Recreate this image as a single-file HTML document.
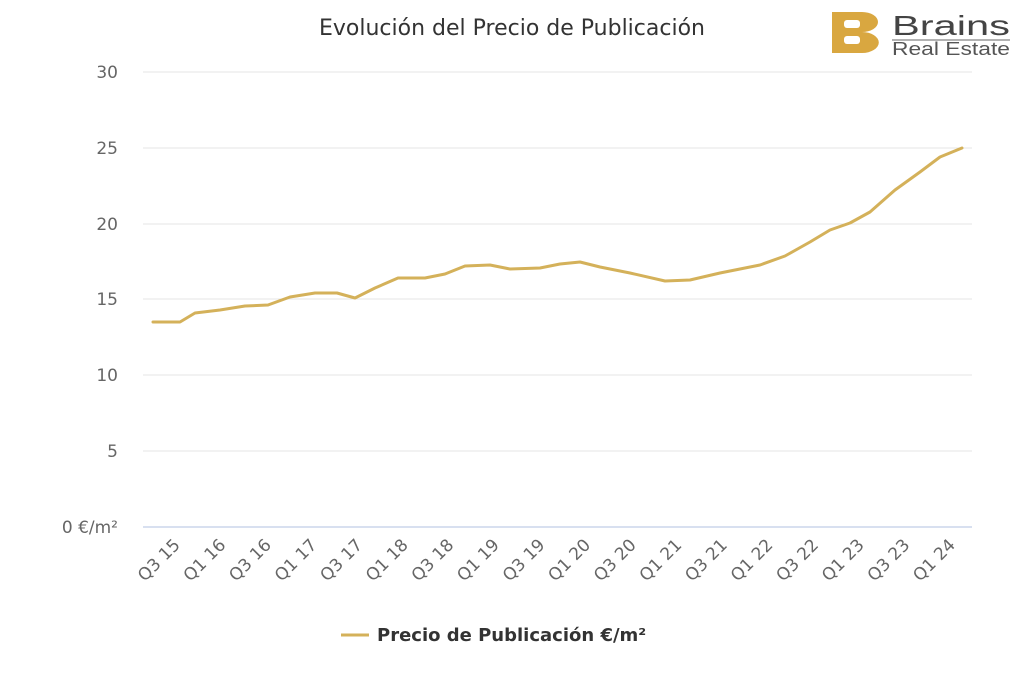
<!DOCTYPE html>
<html><head><meta charset="utf-8"><style>
body{margin:0;background:#fff;}
svg{display:block;font-family:"DejaVu Sans","Liberation Sans",sans-serif;}
</style></head><body>
<svg width="1024" height="683" viewBox="0 0 1024 683" xmlns="http://www.w3.org/2000/svg">
<rect width="1024" height="683" fill="#fff"/>
<text x="512" y="35" text-anchor="middle" font-size="22" fill="#333">Evolución del Precio de Publicación</text>
<!-- logo -->
<path d="M832,12 H862 A16,10 0 0 1 862,32 A16,10 0 0 1 862,53 H832 Z" fill="#d9a740"/>
<rect x="844" y="20" width="16" height="8" rx="3" fill="#fff"/>
<rect x="844" y="36" width="16" height="8" rx="3" fill="#fff"/>
<text x="892" y="35" font-size="28" fill="#444" font-family="Liberation Sans,sans-serif" textLength="118" lengthAdjust="spacingAndGlyphs">Brains</text>
<line x1="892" y1="40" x2="1010" y2="40" stroke="#666" stroke-width="1"/>
<text x="892" y="55" font-size="18" fill="#555" font-family="Liberation Sans,sans-serif" textLength="118" lengthAdjust="spacingAndGlyphs">Real Estate</text>
<!-- grid -->
<g stroke="#e6e6e6" stroke-width="1">
<line x1="143" y1="72" x2="972" y2="72"/>
<line x1="143" y1="148" x2="972" y2="148"/>
<line x1="143" y1="224" x2="972" y2="224"/>
<line x1="143" y1="299" x2="972" y2="299"/>
<line x1="143" y1="375" x2="972" y2="375"/>
<line x1="143" y1="451" x2="972" y2="451"/>
</g>
<line x1="143" y1="527" x2="972" y2="527" stroke="#ccd6eb" stroke-width="1.5"/>
<g font-size="17" fill="#666" text-anchor="end">
<text x="118" y="78">30</text>
<text x="118" y="154">25</text>
<text x="118" y="230">20</text>
<text x="118" y="305">15</text>
<text x="118" y="381">10</text>
<text x="118" y="457">5</text>
<text x="118" y="533">0 €/m²</text>
</g>
<polyline fill="none" stroke="#d4b15a" stroke-width="3" stroke-linejoin="round" stroke-linecap="round"
points="153,322 180,322 195,313 220,310 245,306 268,305 290,297 315,293 337,293 355,298 375,288 398,278 425,278 445,274 465,266 490,265 510,269 540,268 560,264 580,262 600,267 630,273 665,281 690,280 720,273 760,265 785,256 810,242 830,230 850,223 870,212 895,190 920,172 940,157 962,148"/>
<g font-size="17" fill="#666" text-anchor="end">
<text transform="translate(181,546) rotate(-45)">Q3 15</text>
<text transform="translate(226.6,546) rotate(-45)">Q1 16</text>
<text transform="translate(272.2,546) rotate(-45)">Q3 16</text>
<text transform="translate(317.8,546) rotate(-45)">Q1 17</text>
<text transform="translate(363.4,546) rotate(-45)">Q3 17</text>
<text transform="translate(409,546) rotate(-45)">Q1 18</text>
<text transform="translate(454.6,546) rotate(-45)">Q3 18</text>
<text transform="translate(500.2,546) rotate(-45)">Q1 19</text>
<text transform="translate(545.8,546) rotate(-45)">Q3 19</text>
<text transform="translate(591.4,546) rotate(-45)">Q1 20</text>
<text transform="translate(637,546) rotate(-45)">Q3 20</text>
<text transform="translate(682.6,546) rotate(-45)">Q1 21</text>
<text transform="translate(728.2,546) rotate(-45)">Q3 21</text>
<text transform="translate(773.8,546) rotate(-45)">Q1 22</text>
<text transform="translate(819.4,546) rotate(-45)">Q3 22</text>
<text transform="translate(865,546) rotate(-45)">Q1 23</text>
<text transform="translate(910.6,546) rotate(-45)">Q3 23</text>
<text transform="translate(956.2,546) rotate(-45)">Q1 24</text>
</g>
<line x1="341" y1="635" x2="369" y2="635" stroke="#d4b15a" stroke-width="3"/>
<text x="377" y="641" font-size="18" font-weight="bold" fill="#333">Precio de Publicación €/m²</text>
</svg>
</body></html>
